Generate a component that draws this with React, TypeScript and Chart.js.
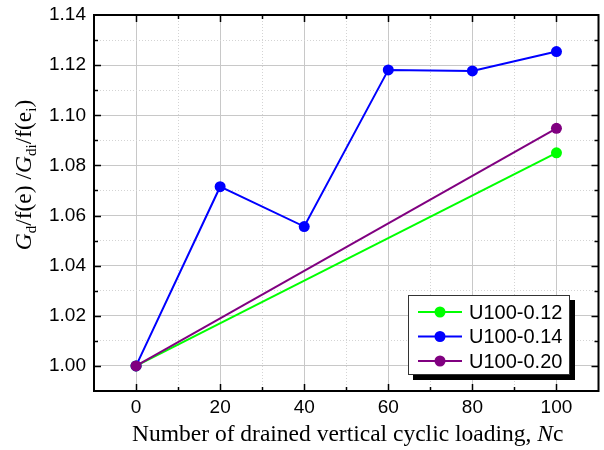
import { useEffect, useRef } from 'react';
import { Chart, registerables } from 'chart.js';

Chart.register(...registerables);

// ---- data ----
const seriesLabels = ['U100-0.12', 'U100-0.14', 'U100-0.20'];
const seriesColors = ['#00ff00', '#0000ff', '#800080'];

const cyclesU012 = [0, 100];
const ratioU012 = [1.0, 1.085];

const cyclesU014 = [0, 20, 40, 60, 80, 100];
const ratioU014 = [1.0, 1.0715, 1.0556, 1.1181, 1.1177, 1.1254];

const cyclesU020 = [0, 100];
const ratioU020 = [1.0, 1.0948];

const xTickLabels = [0, 20, 40, 60, 80, 100];
const yTickLabels = [1.0, 1.02, 1.04, 1.06, 1.08, 1.1, 1.12, 1.14];

const isMajorX = (v: number) => xTickLabels.some((t) => Math.abs(t - v) < 1e-6);
const isMajorY = (v: number) => yTickLabels.some((t) => Math.abs(t - v) < 1e-6);

const SANS = "'Liberation Sans', Arial, sans-serif";
const SERIF = "'Liberation Serif', 'Times New Roman', serif";

type Seg = { t: string; italic?: boolean; sub?: boolean };

function drawSegs(ctx: CanvasRenderingContext2D, segs: Seg[], size: number, startX: number) {
  let x = startX;
  for (const s of segs) {
    const fs = s.sub ? Math.round(size * 0.62) : size;
    ctx.font = `${s.italic ? 'italic ' : ''}${fs}px ${SERIF}`;
    ctx.fillText(s.t, x, s.sub ? size * 0.22 : 0);
    x += ctx.measureText(s.t).width;
  }
  return x - startX;
}

function measureSegs(ctx: CanvasRenderingContext2D, segs: Seg[], size: number) {
  let w = 0;
  for (const s of segs) {
    const fs = s.sub ? Math.round(size * 0.62) : size;
    ctx.font = `${s.italic ? 'italic ' : ''}${fs}px ${SERIF}`;
    w += ctx.measureText(s.t).width;
  }
  return w;
}

const yTitle: Seg[] = [
  { t: 'G', italic: true },
  { t: 'd', sub: true },
  { t: '/f(e) /' },
  { t: 'G', italic: true },
  { t: 'di', sub: true },
  { t: '/f(e' },
  { t: 'i', sub: true },
  { t: ')' },
];
const xTitle: Seg[] = [
  { t: 'Number of drained vertical cyclic loading, ' },
  { t: 'N', italic: true },
  { t: 'c' },
];

const decorPlugin = {
  id: 'decor',
  afterDraw(chart: any) {
    const ctx: CanvasRenderingContext2D = chart.ctx;
    const { left, right, top, bottom } = chart.chartArea;
    const xs = chart.scales.x;
    const ys = chart.scales.y;
    ctx.save();
    // inward ticks
    ctx.strokeStyle = '#000';
    ctx.lineWidth = 1.5;
    ctx.beginPath();
    for (const t of xs.ticks) {
      const px = Math.round(xs.getPixelForValue(t.value)) + 0.5;
      if (px <= left + 1 || px >= right - 1) continue;
      const len = isMajorX(t.value) ? 7 : 4;
      ctx.moveTo(px, bottom);
      ctx.lineTo(px, bottom - len);
      ctx.moveTo(px, top);
      ctx.lineTo(px, top + len);
    }
    for (const t of ys.ticks) {
      const py = Math.round(ys.getPixelForValue(t.value)) + 0.5;
      if (py <= top + 1 || py >= bottom - 1) continue;
      const len = isMajorY(t.value) ? 7 : 4;
      ctx.moveTo(left, py);
      ctx.lineTo(left + len, py);
      ctx.moveTo(right, py);
      ctx.lineTo(right - len, py);
    }
    ctx.stroke();
    // frame
    ctx.lineWidth = 2;
    ctx.strokeRect(left, top, right - left, bottom - top);

    // legend
    const lx = 408, ly = 295, lw = 162, lh = 80;
    ctx.fillStyle = '#000';
    ctx.fillRect(lx + 5, ly + 5, lw, lh);
    ctx.fillStyle = '#fff';
    ctx.fillRect(lx, ly, lw, lh);
    ctx.lineWidth = 1;
    ctx.strokeStyle = '#333';
    ctx.strokeRect(lx + 0.5, ly + 0.5, lw - 1, lh - 1);
    chart.data.datasets.forEach((ds: any, i: number) => {
      const cy = ly + 17 + i * 24.5;
      ctx.strokeStyle = ds.borderColor;
      ctx.lineWidth = 2;
      ctx.beginPath();
      ctx.moveTo(lx + 10, cy);
      ctx.lineTo(lx + 54, cy);
      ctx.stroke();
      ctx.fillStyle = ds.backgroundColor;
      ctx.beginPath();
      ctx.arc(lx + 32, cy, 5.5, 0, Math.PI * 2);
      ctx.fill();
      ctx.fillStyle = '#000';
      ctx.font = `20px ${SANS}`;
      ctx.textBaseline = 'middle';
      ctx.textAlign = 'left';
      ctx.fillText(ds.label, lx + 61, cy + 1);
    });

    // axis titles
    ctx.fillStyle = '#000';
    ctx.textBaseline = 'alphabetic';
    ctx.textAlign = 'left';
    const ySize = 23.5;
    const yw = measureSegs(ctx, yTitle, ySize);
    ctx.save();
    ctx.translate(31, 175 + yw / 2);
    ctx.rotate(-Math.PI / 2);
    drawSegs(ctx, yTitle, ySize, 0);
    ctx.restore();

    const xSize = 23.5;
    ctx.save();
    ctx.translate(132, 441);
    drawSegs(ctx, xTitle, xSize, 0);
    ctx.restore();

    ctx.restore();
  },
};

const zeroPad = (s: any) => {
  s.paddingTop = 0;
  s.paddingBottom = 0;
  s.paddingLeft = 0;
  s.paddingRight = 0;
};

export default function App() {
  const ref = useRef<HTMLCanvasElement | null>(null);
  useEffect(() => {
    if (!ref.current) return;
    const mk = (xsArr: number[], ysArr: number[]) => xsArr.map((x, i) => ({ x, y: ysArr[i] }));
    const chart = new Chart(ref.current, {
      type: 'line',
      data: {
        datasets: [
          { label: seriesLabels[0], data: mk(cyclesU012, ratioU012), borderColor: seriesColors[0], backgroundColor: seriesColors[0], order: 3 },
          { label: seriesLabels[1], data: mk(cyclesU014, ratioU014), borderColor: seriesColors[1], backgroundColor: seriesColors[1], order: 2 },
          { label: seriesLabels[2], data: mk(cyclesU020, ratioU020), borderColor: seriesColors[2], backgroundColor: seriesColors[2], order: 1 },
        ].map((d) => ({
          ...d,
          borderWidth: 2,
          pointRadius: 5.5,
          pointBorderWidth: 0,
          pointHoverRadius: 5.5,
          tension: 0,
          fill: false,
        })),
      },
      options: {
        responsive: false,
        animation: false,
        layout: { padding: { top: 15, right: 1, left: 0, bottom: 0 } },
        plugins: { legend: { display: false }, tooltip: { enabled: false } },
        scales: {
          x: {
            type: 'linear',
            min: -10,
            max: 110,
            afterFit: (s: any) => { s.height = 59; zeroPad(s); },
            ticks: {
              stepSize: 10,
              padding: 5,
              color: '#000',
              font: { family: SANS, size: 19 },
              maxRotation: 0,
              autoSkip: false,
              callback: (v: any) => (isMajorX(Number(v)) ? String(Math.round(Number(v))) : ''),
            },
            grid: {
              drawTicks: false,
              color: (c: any) => (c.tick && isMajorX(c.tick.value) ? '#c8c8c8' : '#d4d4d4'),
              lineWidth: 1,
            },
            border: {
              display: false,
              dash: (c: any) => (c.tick && !isMajorX(c.tick.value) ? [1, 2] : []),
            },
          },
          y: {
            type: 'linear',
            min: 0.99,
            max: 1.14,
            afterFit: (s: any) => { s.width = 94; zeroPad(s); },
            ticks: {
              stepSize: 0.01,
              padding: 8,
              color: '#000',
              font: { family: SANS, size: 19 },
              autoSkip: false,
              callback: (v: any) => (isMajorY(Number(v)) ? Number(v).toFixed(2) : ''),
            },
            grid: {
              drawTicks: false,
              color: (c: any) => (c.tick && isMajorY(c.tick.value) ? '#c8c8c8' : '#d4d4d4'),
              lineWidth: 1,
            },
            border: {
              display: false,
              dash: (c: any) => (c.tick && !isMajorY(c.tick.value) ? [1, 2] : []),
            },
          },
        },
      },
      plugins: [decorPlugin],
    } as any);
    return () => chart.destroy();
  }, []);
  return (
    <div style={{ position: 'fixed', left: 0, top: 0, width: 604, height: 450, background: '#fff' }}>
      <canvas ref={ref} width={604} height={450} style={{ display: 'block' }} />
    </div>
  );
}
